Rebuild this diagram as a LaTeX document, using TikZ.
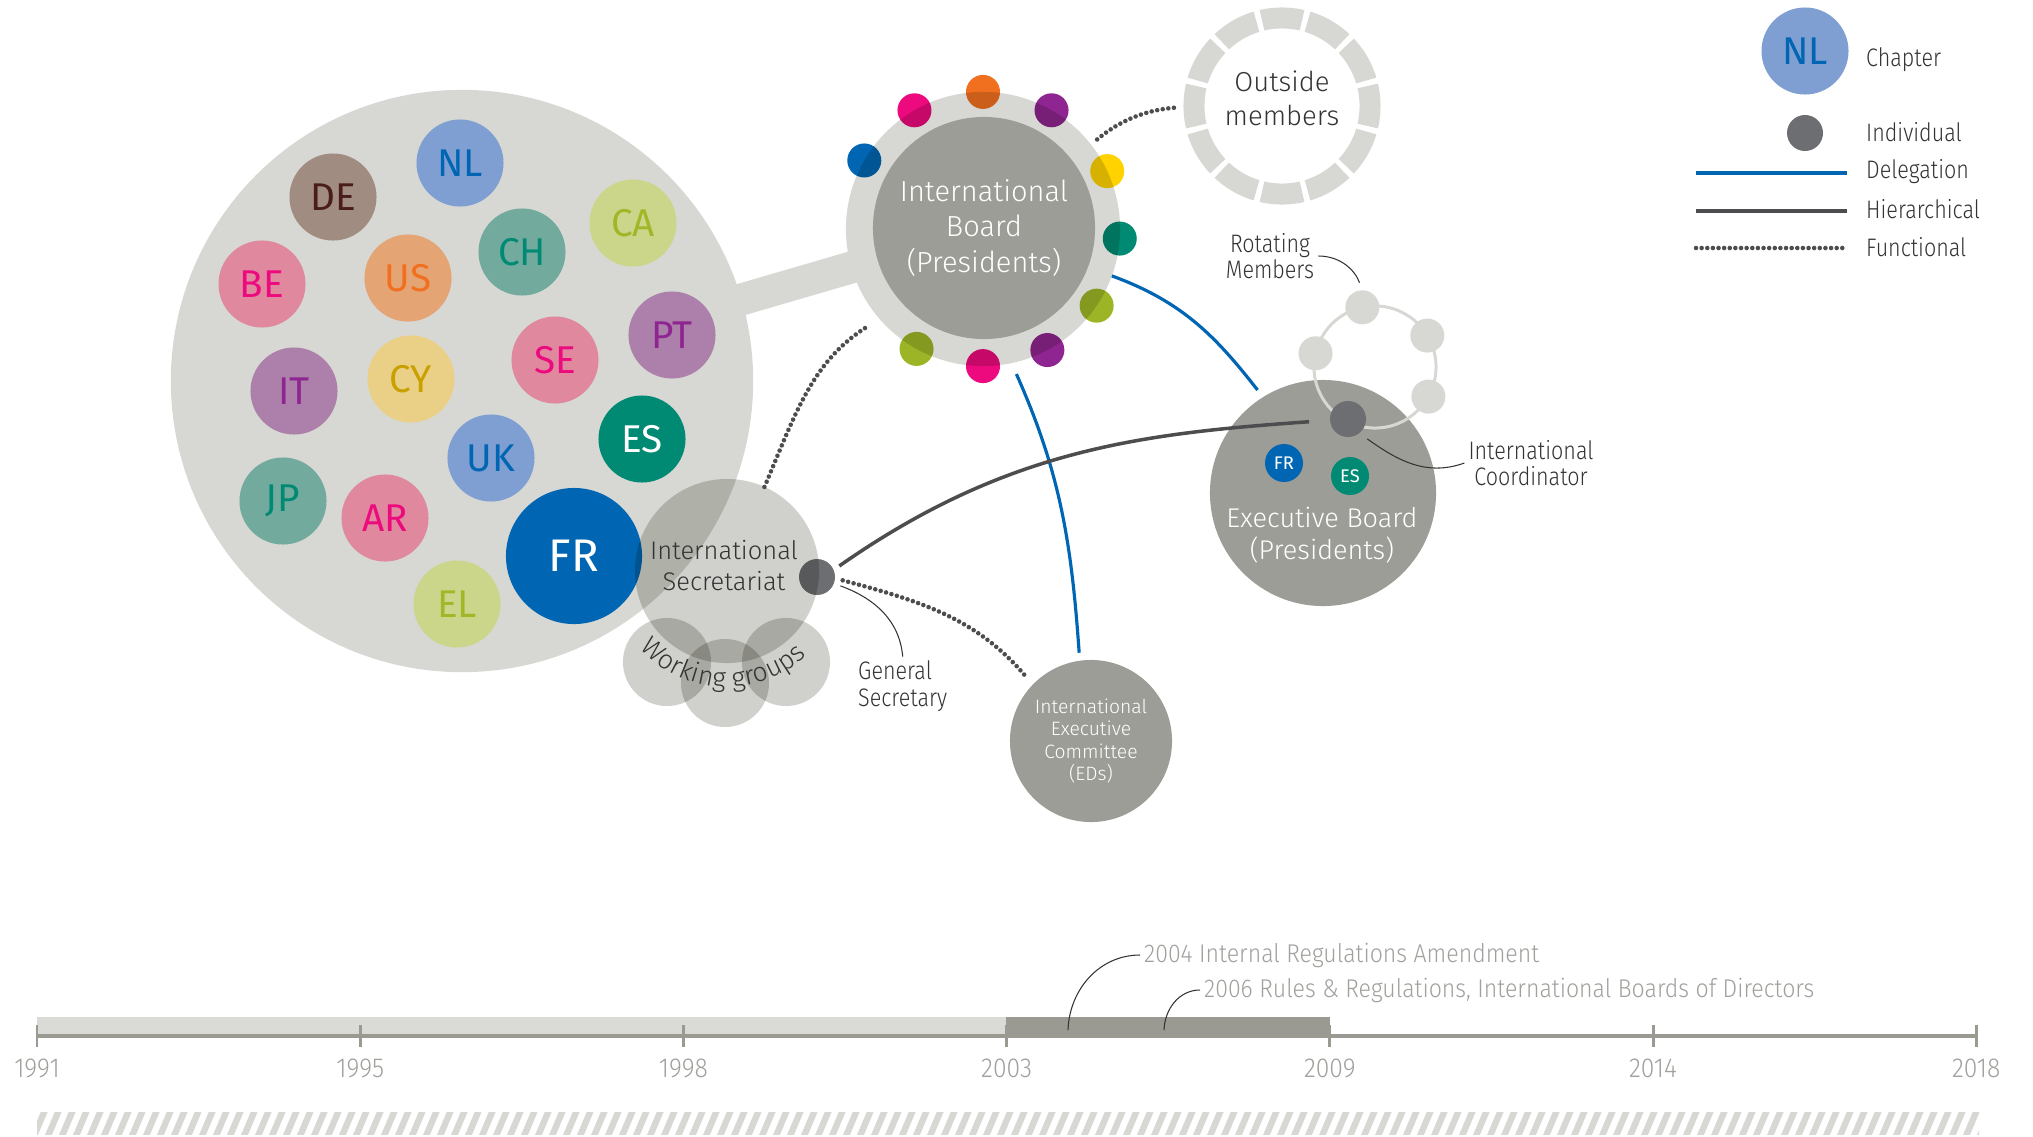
\documentclass[tikz,border=0pt]{standalone}
\usepackage{fontspec}
\setmainfont{Fira Sans Light}
\newfontfamily\chapfont{Fira Sans}
\newfontfamily\narrowfont{Fira Sans Light}[FakeStretch=0.85]
\newfontfamily\notefont{Fira Sans Light}[FakeStretch=0.9]
\usetikzlibrary{decorations.text}

\definecolor{clubgray}{HTML}{D7D8D3}
\definecolor{secgray}{HTML}{D0D0CC}
\definecolor{boardgray}{HTML}{9C9D97}
\definecolor{dotgray}{HTML}{6D6E71}
\definecolor{hiergray}{HTML}{4D4D4F}
\definecolor{inkgray}{HTML}{333333}
\definecolor{timegray}{HTML}{9A9A92}
\definecolor{timelight}{HTML}{DADAD7}
\definecolor{yeargray}{HTML}{A0A09C}
\definecolor{bgBlue}{HTML}{7F9FD3}   \definecolor{fgBlue}{HTML}{0066B3}
\definecolor{bgTaupe}{HTML}{A08C80}  \definecolor{fgBrown}{HTML}{4A1C1C}
\definecolor{bgLime}{HTML}{CCD68A}   \definecolor{fgLime}{HTML}{A0B828}
\definecolor{bgTeal}{HTML}{72AA9E}   \definecolor{fgTeal}{HTML}{008A73}
\definecolor{bgPink}{HTML}{E0889E}   \definecolor{fgPink}{HTML}{EC0A7E}
\definecolor{bgOrange}{HTML}{E5A474} \definecolor{fgOrange}{HTML}{F07020}
\definecolor{bgPurple}{HTML}{AC80AB} \definecolor{fgPurple}{HTML}{8E2590}
\definecolor{bgSand}{HTML}{EAD086}   \definecolor{fgSand}{HTML}{C8A000}
\definecolor{seatYellow}{HTML}{FFD200}
\definecolor{seatGreen}{HTML}{9CB526}

\tikzset{
  disc/.style={circle, inner sep=0pt, outer sep=0pt},
  chapter/.style={disc, minimum size=0.87cm, font=\chapfont\fontsize{11pt}{11pt}\selectfont},
  seat/.style={disc, minimum size=0.34cm},
  person/.style={disc, fill=dotgray, minimum size=0.36cm},
  bigdisc/.style={disc, fill=boardgray, text=white, align=center},
  wgdisc/.style={disc, fill=secgray, minimum size=0.88cm},
  rotseat/.style={disc, fill=clubgray, minimum size=0.34cm},
  smallchap/.style={disc, minimum size=0.38cm, text=white, font=\chapfont\fontsize{5.2pt}{5.2pt}\selectfont},
  annot/.style={text=inkgray, align=center, inner sep=1pt, font=\narrowfont\fontsize{7.2pt}{7.5pt}\selectfont},
  keytext/.style={annot, anchor=west, align=left},
  yearlabel/.style={text=yeargray, inner sep=0pt, font=\notefont\fontsize{7.8pt}{7.8pt}\selectfont},
  note/.style={text=yeargray, anchor=west, inner sep=1pt, font=\notefont\fontsize{7.3pt}{7.3pt}\selectfont},
  delegation/.style={fgBlue, line width=0.9pt},
  hierarchy/.style={hiergray, line width=1pt},
  functional/.style={hiergray, line width=1.3pt, dash pattern=on 0pt off 1.6pt, line cap=round},
  leader/.style={inkgray, line width=0.3pt}
}

\begin{document}
\begin{tikzpicture}[x=0.01cm,y=-0.01cm,line join=round]
\useasboundingbox (0,0) rectangle (2033,1136);

% Chapitres
\coordinate (clubc) at (462,381);
\coordinate (boardc) at (983,229);
\draw[clubgray, line width=9.1pt] (clubc) -- (boardc);
\node[disc, fill=clubgray, minimum size=5.82cm] (club) at (clubc) {};
\foreach \cc/\x/\y/\bg/\fg in {NL/460/163/bgBlue/fgBlue, DE/333/197/bgTaupe/fgBrown,
  CA/633/223/bgLime/fgLime, CH/522/252/bgTeal/fgTeal, BE/262/284/bgPink/fgPink,
  US/408/278/bgOrange/fgOrange, PT/672/335/bgPurple/fgPurple, SE/555/360/bgPink/fgPink,
  IT/294/391/bgPurple/fgPurple, CY/411/379/bgSand/fgSand, ES/642/439/fgTeal/white,
  UK/491/458/bgBlue/fgBlue, JP/283/501/bgTeal/fgTeal, AR/385/518/bgPink/fgPink,
  EL/457/604/bgLime/fgLime}
  \node[chapter, fill=\bg, text=\fg] (\cc) at (\x,\y) {\cc};
\node[chapter, minimum size=1.36cm, fill=fgBlue, text=white,
  font=\chapfont\fontsize{13pt}{13pt}\selectfont] (FR) at (574,556) {FR};

% Secretariat et groupes de travail
\begin{scope}[blend mode=multiply]
  \node[disc, fill=secgray, minimum size=1.84cm] (sec) at (727,571) {};
  \foreach \x/\y [count=\i] in {667/662, 725/683, 786/662}
    \node[wgdisc] (wg\i) at (\x,\y) {};
  \node[person] (gs) at (817,577) {};
\end{scope}
\path[decorate, decoration={text along path, text align=center, text color=inkgray,
  text={|\fontsize{7.6pt}{7.6pt}\selectfont|Working groups}}]
  (sec.center) ++(-155:1.16cm) arc[start angle=-155, end angle=-30, radius=1.16cm];
\node[text=inkgray, align=center, font=\fontsize{7.25pt}{8.8pt}\selectfont]
  (seclabel) at (724,566) {International\\Secretariat};

% Conseil international
\node[disc, fill=clubgray, minimum size=2.74cm] (ring) at (boardc) {};
\node[bigdisc, minimum size=2.22cm, font=\fontsize{8.25pt}{10.1pt}\selectfont]
  (board) at (984,228) {International\\Board\\(Presidents)};
\begin{scope}[blend mode=multiply]
  \foreach \a/\c [count=\i] in {150/fgBlue, 120/fgPink, 90/fgOrange, 60/fgPurple,
    25/seatYellow, -4/fgTeal, -34/seatGreen, -62/fgPurple, -90/fgPink, -119/seatGreen}
    \node[seat, fill=\c] (seat\i) at (ring.\a) {};
\end{scope}

% Membres exterieurs
\node[disc, draw=clubgray, line width=5.97pt, minimum size=1.76cm,
  dash pattern=on 11.5pt off 1.611pt, dash phase=5.75pt] (outside) at (1282,106) {};
\node[text=inkgray, align=center, font=\fontsize{7.8pt}{9.6pt}\selectfont]
  (outsidelabel) at (1282,98) {Outside\\members};

% Bureau executif
\node[bigdisc, minimum size=2.26cm] (exec) at (1323,493) {};
\node[smallchap, fill=fgBlue] (ebFR) at (1284,463) {FR};
\node[smallchap, fill=fgTeal] (ebES) at (1350,476) {ES};
\node[text=white, align=center, font=\fontsize{7.7pt}{9.1pt}\selectfont]
  (execlabel) at (1322,535) {Executive Board\\(Presidents)};
\node[disc, draw=clubgray, line width=0.85pt, minimum size=1.22cm] (rot) at (1375,367) {};
\foreach \a [count=\i] in {102,31,167,-29}
  \node[rotseat] (r\i) at (rot.\a) {};
\node[person] (coord) at (1348,419) {};

% Comite executif international
\node[bigdisc, minimum size=1.62cm, font=\fontsize{5.5pt}{6.3pt}\selectfont]
  (iec) at (1091,741) {International\\Executive\\Committee\\(EDs)};

% Liens
\draw[delegation, shorten >=0.09cm] (ring.-20) to[out=-20,in=128] (exec.122);
\draw[delegation, shorten <=0.12cm, shorten >=0.08cm] (ring.-78) to[out=-66,in=94] (iec.98);
\draw[hierarchy, shorten <=0.07cm, shorten >=0.39cm] (gs.23) to[out=35,in=184] (coord.center);
\draw[functional, shorten >=0.14cm] (sec.66) to[out=67,in=212] (ring.-139);
\draw[functional, shorten <=0.08cm, shorten >=0.2cm] (ring.38) to[out=40,in=185] (outside.180);
\draw[functional, shorten <=0.08cm, shorten >=0.1cm] (gs.-4) to[out=-15,in=130] (iec.136);

% Annotations
\node[annot] (rotlabel) at (1270,256) {Rotating\\Members};
\node[annot] (coordlabel) at (1531,463) {International\\Coordinator};
\node[annot, anchor=west, align=left] (gslabel) at (854,686) {General\\Secretary};
\draw[leader, shorten >=0.08cm] (rotlabel.east) to[out=0,in=110] (r1.north);
\draw[leader, shorten <=0.1cm] (coord.-52) to[out=-35,in=200] (coordlabel.west);
\draw[leader, shorten <=0.07cm] (gs.-21) to[out=-20,in=95] (gslabel.north);

% Legende
\node[chapter, fill=bgBlue, text=fgBlue] (keyNL) at (1805,51) {NL};
\node[person] (keyInd) at (1805,133) {};
\coordinate (keyDelA) at (1696,173); \coordinate (keyDelB) at (1847,173);
\coordinate (keyHieA) at (1696,211); \coordinate (keyHieB) at (1847,211);
\coordinate (keyFunA) at (1696,248); \coordinate (keyFunB) at (1847,248);
\draw[delegation] (keyDelA) -- (keyDelB);
\draw[hierarchy] (keyHieA) -- (keyHieB);
\draw[functional] (keyFunA) -- (keyFunB);
\node[keytext] (keyChapter) at (1862,60) {Chapter};
\node[keytext] (keyIndividual) at (1862,132) {Individual};
\node[keytext] (keyDelegation) at (1862,172) {Delegation};
\node[keytext] (keyHierarchical) at (1862,209) {Hierarchical};
\node[keytext] (keyFunctional) at (1862,247) {Functional};

% Frise chronologique
\fill[timelight] (37,1017) rectangle (1006,1035);
\fill[timegray] (1006,1017) rectangle (1330,1035);
\draw[timegray, line width=1pt] (37,1036) -- (1976,1036);
\foreach \yr [count=\i from 0] in {1991,1995,1998,2003,2009,2014,2018} {
  \draw[timegray, line width=0.85pt] ({37+323.2*\i},1025) -- ({37+323.2*\i},1047);
  \node[yearlabel] (yr\yr) at ({37+323.2*\i},1068) {\yr};
}
\coordinate (y04) at (1068,1030);
\coordinate (y06) at (1164,1030);
\node[note] (amend04) at (1140,955) {2004 Internal Regulations Amendment};
\node[note] (rules06) at (1200,990) {2006 Rules \& Regulations, International Boards of Directors};
\draw[leader] (amend04.west) to[out=180,in=88] (y04);
\draw[leader] (rules06.west) to[out=180,in=88] (y06);

% Bande hachuree
\begin{scope}
  \clip (37,1112) rectangle (1979,1134);
  \foreach \x in {20,34,...,1990}
    \draw[clubgray, line width=1.8pt] (\x,1136) -- (\x+11,1110);
\end{scope}
\end{tikzpicture}
\end{document}
